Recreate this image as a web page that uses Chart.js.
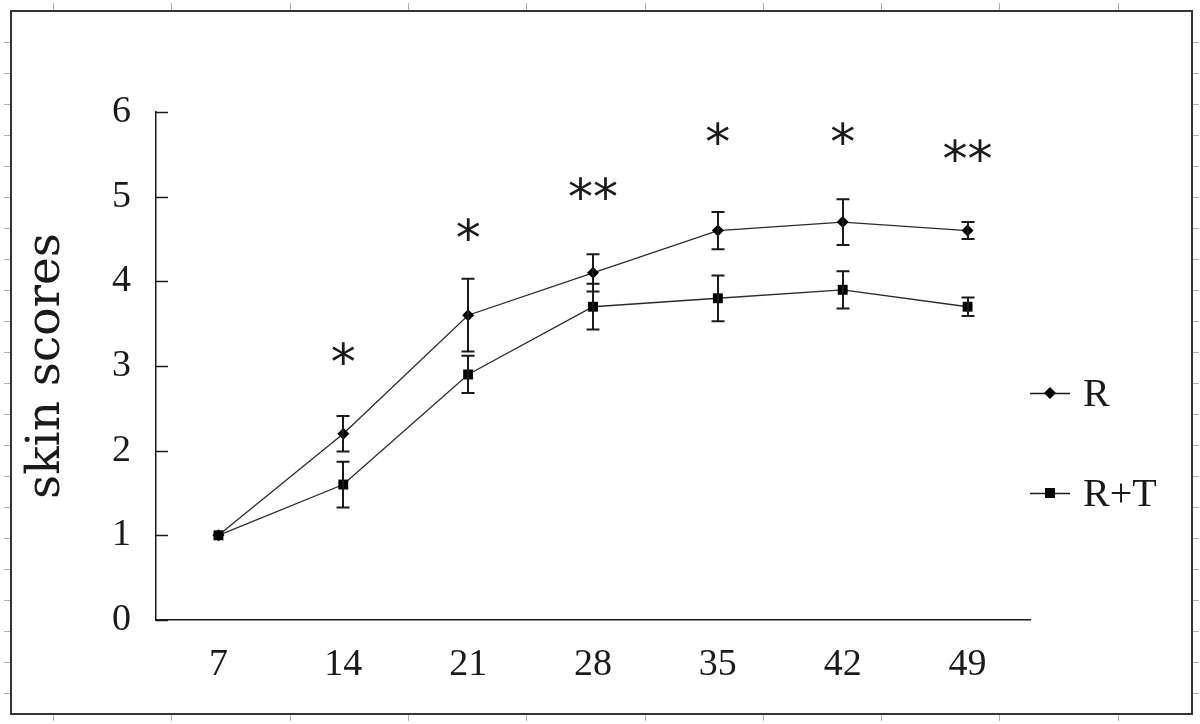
<!DOCTYPE html>
<html>
<head>
<meta charset="utf-8">
<script src="https://cdn.jsdelivr.net/npm/chart.js@4.4.1/dist/chart.umd.min.js"></script>
<style>
html,body{margin:0;padding:0;background:#fff;}
#wrap{width:1200px;height:724px;}
</style>
</head>
<body>
<div id="wrap"><canvas id="c" width="1200" height="724"></canvas></div>
<script>
// ---- data ----
const days = ['7', '14', '21', '28', '35', '42', '49'];
const seriesNames = ['R', 'R+T'];
const valuesR = [1.0, 2.2, 3.6, 4.1, 4.6, 4.7, 4.6];
const errorsR = [0, 0.21, 0.43, 0.22, 0.22, 0.27, 0.1];
const valuesRT = [1.0, 1.6, 2.9, 3.7, 3.8, 3.9, 3.7];
const errorsRT = [0, 0.27, 0.22, 0.27, 0.27, 0.22, 0.11];
const sigMarks = ['', '*', '*', '**', '*', '*', '**'];
const sigLevel = [null, 3.15, 4.61, 5.10, 5.75, 5.75, 5.55];
const yTicks = [0, 1, 2, 3, 4, 5, 6];
const yTitle = 'skin scores';

const SERIF = '"Liberation Serif", "DejaVu Serif", serif';
const INK = '#1a1a1a';

const frame = {
  id: 'frame',
  beforeDraw(chart) {
    const ctx = chart.ctx;
    ctx.save();
    ctx.fillStyle = '#fff';
    ctx.fillRect(0, 0, chart.width, chart.height);
    ctx.strokeStyle = '#b0b0b0';
    ctx.lineWidth = 1;
    for (let x = 53; x < 1190; x += 118.3) {
      ctx.beginPath(); ctx.moveTo(Math.round(x) + 0.5, 3); ctx.lineTo(Math.round(x) + 0.5, 10); ctx.stroke();
      ctx.beginPath(); ctx.moveTo(Math.round(x) + 0.5, 715); ctx.lineTo(Math.round(x) + 0.5, 721); ctx.stroke();
    }
    for (let y = 42; y < 712; y += 31) {
      ctx.beginPath(); ctx.moveTo(4, Math.round(y) + 0.5); ctx.lineTo(10, Math.round(y) + 0.5); ctx.stroke();
      ctx.beginPath(); ctx.moveTo(1193, Math.round(y) + 0.5); ctx.lineTo(1199, Math.round(y) + 0.5); ctx.stroke();
    }
    ctx.strokeStyle = '#333';
    ctx.lineWidth = 2;
    ctx.strokeRect(11, 11, 1181, 703);
    ctx.restore();
  }
};

const innerTicks = {
  id: 'innerTicks',
  afterDraw(chart) {
    const ctx = chart.ctx, y = chart.scales.y, x = chart.scales.x;
    ctx.save();
    ctx.strokeStyle = INK;
    ctx.lineWidth = 1.5;
    y.ticks.forEach(t => {
      const py = Math.round(y.getPixelForValue(t.value)) + 0.5;
      ctx.beginPath(); ctx.moveTo(x.left, py); ctx.lineTo(x.left + 12, py); ctx.stroke();
    });
    ctx.restore();
  }
};

const errorBars = {
  id: 'errorBars',
  afterDatasetsDraw(chart) {
    const ctx = chart.ctx, xs = chart.scales.x, ys = chart.scales.y;
    const errs = [errorsR, errorsRT];
    ctx.save();
    ctx.strokeStyle = INK;
    ctx.lineWidth = 2;
    chart.data.datasets.forEach((ds, di) => {
      ds.data.forEach((v, i) => {
        const e = errs[di][i];
        if (!e) return;
        const px = Math.round(xs.getPixelForValue(i));
        const top = ys.getPixelForValue(v + e);
        const bot = ys.getPixelForValue(v - e);
        ctx.beginPath();
        ctx.moveTo(px, top); ctx.lineTo(px, bot);
        ctx.moveTo(px - 6.5, top); ctx.lineTo(px + 6.5, top);
        ctx.moveTo(px - 6.5, bot); ctx.lineTo(px + 6.5, bot);
        ctx.stroke();
      });
    });
    ctx.restore();
  }
};

const sigPlugin = {
  id: 'sig',
  afterDraw(chart) {
    const ctx = chart.ctx, xs = chart.scales.x, ys = chart.scales.y;
    ctx.save();
    ctx.fillStyle = INK;
    ctx.font = '50px "DejaVu Sans", sans-serif';
    ctx.textAlign = 'center';
    ctx.textBaseline = 'alphabetic';
    sigMarks.forEach((m, i) => {
      if (!m || sigLevel[i] == null) return;
      const mt = ctx.measureText(m);
      const shift = (mt.actualBoundingBoxAscent - mt.actualBoundingBoxDescent) / 2;
      ctx.fillText(m, xs.getPixelForValue(i), ys.getPixelForValue(sigLevel[i]) + shift);
    });
    ctx.restore();
  }
};

const legendPlugin = {
  id: 'customLegend',
  afterDraw(chart) {
    const ctx = chart.ctx;
    const rows = [393, 493];
    ctx.save();
    chart.data.datasets.forEach((ds, i) => {
      const y = rows[i];
      ctx.strokeStyle = INK; ctx.lineWidth = 1.5;
      ctx.beginPath(); ctx.moveTo(1030, y + 0.5); ctx.lineTo(1070, y + 0.5); ctx.stroke();
      ctx.fillStyle = '#000';
      if (ds.pointStyle === 'rectRot') {
        ctx.beginPath(); ctx.moveTo(1050, y - 6); ctx.lineTo(1056, y); ctx.lineTo(1050, y + 6); ctx.lineTo(1044, y); ctx.closePath(); ctx.fill();
      } else {
        ctx.fillRect(1045, y - 5, 10, 10);
      }
      ctx.fillStyle = INK;
      ctx.font = '40px ' + SERIF;
      ctx.textAlign = 'left';
      ctx.textBaseline = 'middle';
      ctx.fillText(ds.label, 1083, y + 2);
    });
    ctx.restore();
  }
};

new Chart(document.getElementById('c'), {
  type: 'line',
  data: {
    labels: days,
    datasets: [
      { label: seriesNames[0], data: valuesR, order: 1, borderColor: '#2a2a2a', borderWidth: 1.3,
        pointStyle: 'rectRot', pointRadius: 6, pointBackgroundColor: '#000', pointBorderColor: '#000', pointBorderWidth: 0 },
      { label: seriesNames[1], data: valuesRT, order: 0, borderColor: '#2a2a2a', borderWidth: 1.3,
        pointStyle: 'rect', pointRadius: 7, pointBackgroundColor: '#000', pointBorderColor: '#000', pointBorderWidth: 0 }
    ]
  },
  options: {
    responsive: false,
    animation: false,
    events: [],
    layout: { padding: { left: 0, top: 112, right: 170, bottom: 0 } },
    plugins: { legend: { display: false }, tooltip: { enabled: false } },
    scales: {
      x: {
        offset: true,
        grid: { display: false, drawTicks: false },
        border: { display: true, color: INK, width: 1.5 },
        ticks: { color: INK, font: { family: SERIF, size: 38 }, padding: 22, maxRotation: 0 },
        afterFit(s) { s.height = 104; }
      },
      y: {
        min: 0, max: 6,
        afterBuildTicks(s) { s.ticks = yTicks.map(v => ({ value: v })); },
        grid: { display: false, drawTicks: false },
        border: { display: true, color: INK, width: 1.5 },
        ticks: { color: INK, font: { family: SERIF, size: 38 }, padding: 25 },
        title: { display: true, text: yTitle, color: INK, font: { family: '"DejaVu Serif", serif', size: 47 }, padding: { top: 19, bottom: 0 } },
        afterFit(s) { s.width = 156; }
      }
    }
  },
  plugins: [frame, errorBars, innerTicks, sigPlugin, legendPlugin]
});
</script>
</body>
</html>
